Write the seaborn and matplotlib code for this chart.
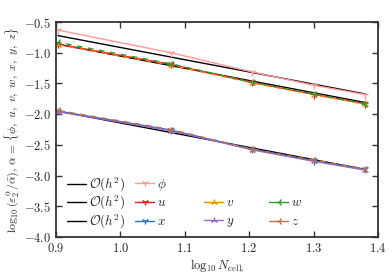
import numpy as np
import pandas as pd
import matplotlib
matplotlib.use("Agg")
import matplotlib.pyplot as plt
import seaborn as sns

# log10 of the number of cells
log_n = [0.903, 1.079, 1.204, 1.301, 1.380]

phi = [-0.63, -1.00, -1.31, -1.53, -1.68]
u = [-0.86, -1.19, -1.48, -1.68, -1.83]
v = [-0.87, -1.20, -1.49, -1.68, -1.84]
w = [-0.83, -1.18, -1.48, -1.67, -1.83]
x = [-1.95, -2.26, -2.57, -2.76, -2.90]
y = [-1.96, -2.27, -2.58, -2.77, -2.91]
z = [-1.94, -2.25, -2.57, -2.75, -2.89]

# second order reference lines
ref_x = [0.903, 1.380]
ref_1 = [-0.72, -1.67]
ref_2 = [-0.86, -1.81]
ref_3 = [-1.95, -2.90]

sns.set_style("ticks")
plt.rcParams.update({
    "font.family": ["serif"],
    "font.serif": ["cmr10", "DejaVu Serif"],
    "mathtext.fontset": "cm",
    "axes.formatter.use_mathtext": True,
    "axes.unicode_minus": True,
    "font.size": 9,
    "axes.edgecolor": "#333333",
    "axes.linewidth": 1.3,
    "xtick.direction": "in",
    "ytick.direction": "in",
    "xtick.top": True,
    "ytick.right": True,
})

fig = plt.figure(figsize=(3.92, 2.8), dpi=100)
ax = fig.add_axes([0.143, 0.154, 0.821, 0.767])

ref_handles = []
for ref in [ref_1, ref_2, ref_3]:
    sns.lineplot(x=ref_x, y=ref, ax=ax, color="black", lw=1.0, legend=False)
    h, = ax.plot([], [], color="black", lw=1.0)
    ref_handles.append(h)

series = {
    "phi": (r"$\phi$", phi, "#ff9896", "1", "-"),
    "u": (r"$u$", u, "#e31a1c", "1", "-"),
    "x": (r"$x$", x, "#1f77b4", "1", "-"),
    "v": (r"$v$", v, "#ff7f0e", "2", (0, (4, 4))),
    "y": (r"$y$", y, "#9467bd", "2", "-"),
    "w": (r"$w$", w, "#2ca02c", "3", (2, (4, 4))),
    "z": (r"$z$", z, "#c0704a", "3", (0, (4, 4))),
}

handles = {}
for key, (label, vals, col, mk, ls) in series.items():
    ax.plot(log_n, vals, color=col, marker=mk, ms=5.5, mew=1.0,
            lw=1.0, linestyle=ls)
    h, = ax.plot([], [], color=col, marker=mk, ms=5, mew=1.0, lw=1.0)
    handles[key] = h

ax.set_xlim(0.9, 1.4)
ax.set_ylim(-4.0, -0.5)
ax.set_xticks([0.9, 1.0, 1.1, 1.2, 1.3, 1.4])
ax.set_yticks([-4.0, -3.5, -3.0, -2.5, -2.0, -1.5, -1.0, -0.5])
ax.tick_params(length=4, width=1.0, color="#333333", labelsize=9)

ax.set_xlabel(r"$\log_{10} N_{\mathrm{cell}_i}$", fontsize=9, labelpad=2)
ax.set_ylabel(r"$\log_{10}(\varepsilon_2^\alpha/\bar{\alpha})$, $\alpha$ = "
              r"$\{\phi,\ u,\ v,\ w,\ x,\ y,\ z\}$", fontsize=8.5, labelpad=2)

# legend laid out as a grid: one entry per cell (column px, row px)
col_px = [67, 135, 204, 269]
row_px = [185, 203, 222]
cells = [
    (ref_handles[0], r"$\mathcal{O}(h^2)$", 0, 0),
    (ref_handles[1], r"$\mathcal{O}(h^2)$", 0, 1),
    (ref_handles[2], r"$\mathcal{O}(h^2)$", 0, 2),
    (handles["phi"], r"$\phi$", 1, 0),
    (handles["u"], r"$u$", 1, 1),
    (handles["x"], r"$x$", 1, 2),
    (handles["v"], r"$v$", 2, 1),
    (handles["y"], r"$y$", 2, 2),
    (handles["w"], r"$w$", 3, 1),
    (handles["z"], r"$z$", 3, 2),
]
for h, lab, c, r in cells:
    fig.legend([h], [lab], loc="center left",
               bbox_to_anchor=(col_px[c] / 392, 1 - row_px[r] / 280),
               frameon=False, fontsize=9.5, handlelength=1.45,
               handletextpad=0.2, borderpad=0, borderaxespad=0)

fig.savefig("out.png", dpi=100)
